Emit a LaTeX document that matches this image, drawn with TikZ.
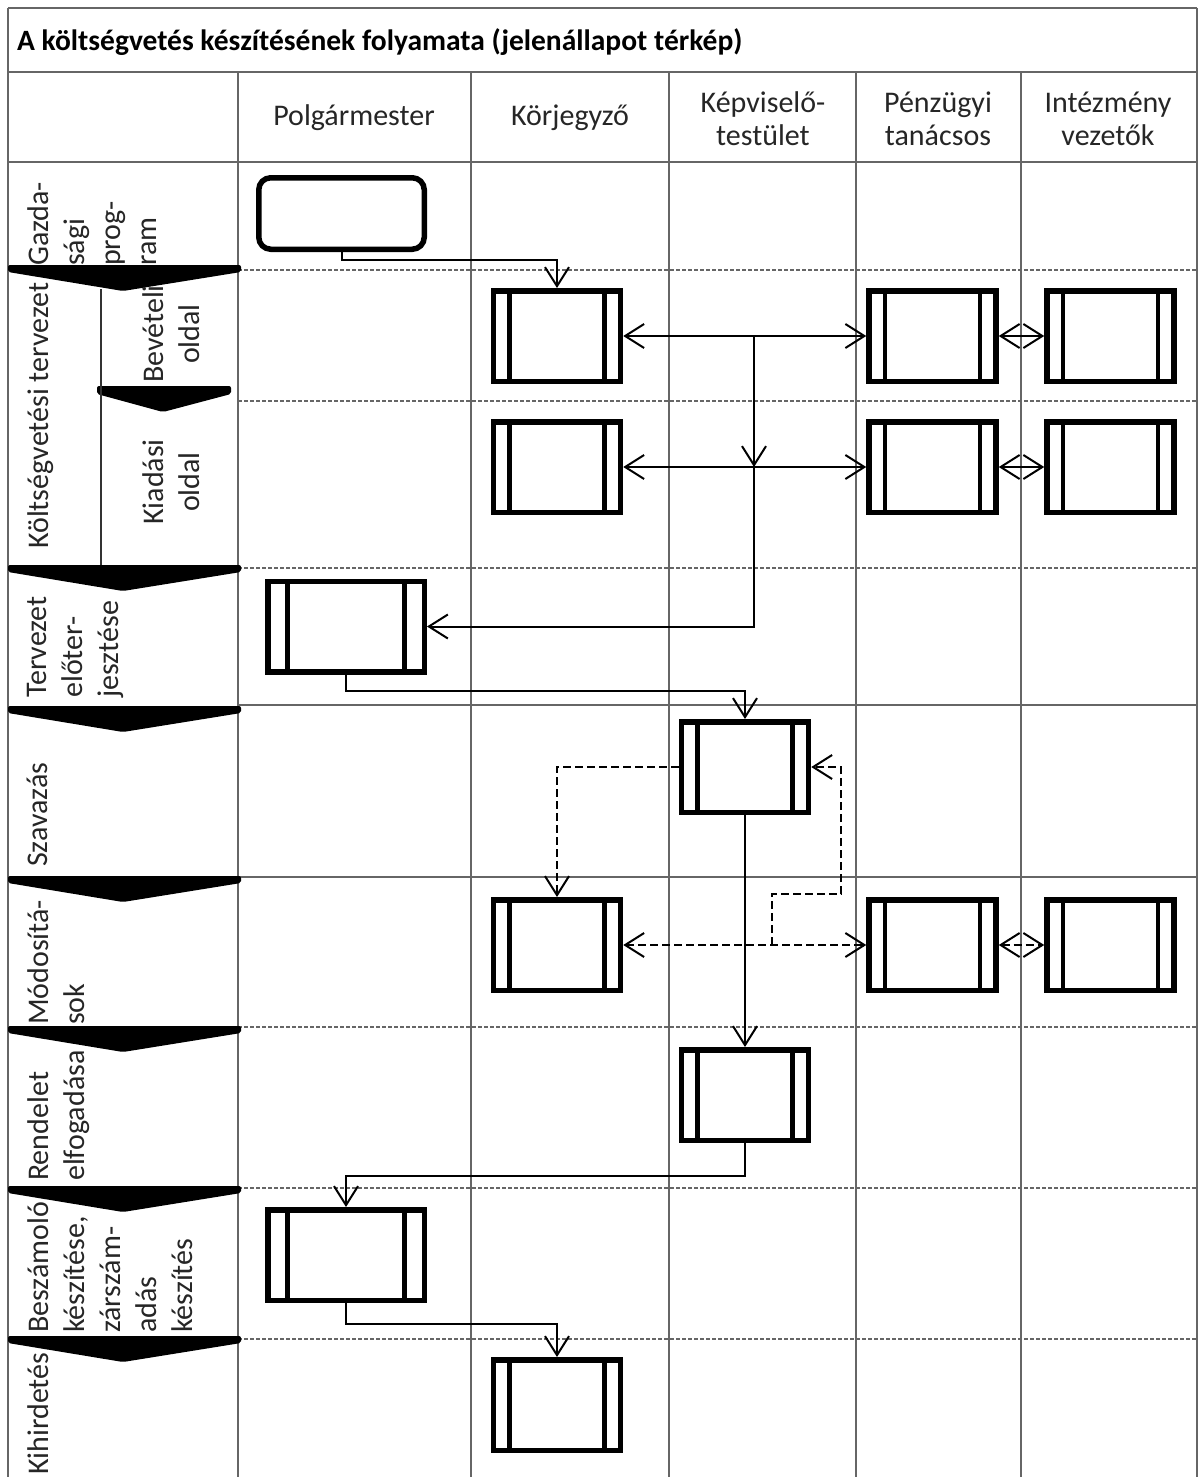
\documentclass[tikz,border=0pt]{standalone}
\usepackage{fontspec}
\setmainfont{Carlito}
\usetikzlibrary{positioning,calc,arrows.meta}

\begin{document}
\begin{tikzpicture}[x=1pt, y=-1pt,
  laneline/.style={draw=black!60, line width=1.6pt},
  rowsep/.style={draw=black!60, line width=1.4pt, dash pattern=on 4pt off 2pt},
  lbl/.style={font=\fontsize{30}{36}\selectfont, text=black!85, inner sep=0pt},
  phaselbl/.style={lbl, rotate=90, anchor=north west, align=left},
  sublbl/.style={lbl, rotate=90, align=center},
  headlbl/.style={lbl, align=center, font=\fontsize{30}{33}\selectfont},
  proc/.style={draw, line width=5.5pt, minimum width=#1, minimum height=90.5pt, inner sep=0pt,
    path picture={
      \draw[line width=4.5pt]
        ($(path picture bounding box.north west)!0.125!(path picture bounding box.north east)$) --
        ($(path picture bounding box.south west)!0.125!(path picture bounding box.south east)$)
        ($(path picture bounding box.north west)!0.875!(path picture bounding box.north east)$) --
        ($(path picture bounding box.south west)!0.875!(path picture bounding box.south east)$);
    }},
  proc/.default=127pt,
  startbox/.style={draw, line width=5.5pt, rounded corners=12pt, minimum width=165.5pt, minimum height=71.5pt},
  arr/.style={-{Straight Barb[length=19pt,width=24pt]}, line width=2pt},
  arrs/.style={{Straight Barb[length=19pt,width=24pt]}-{Straight Barb[length=19pt,width=24pt]}, line width=2pt},
  dashline/.style={dash pattern=on 8pt off 4pt}
]
  \useasboundingbox (0,0) rectangle (1198,1477);

  % keret, oszlopok, sorok
  \draw[laneline] (8,8) -- (1197,8);
  \draw[laneline] (8,72) -- (1197,72);
  \draw[laneline] (8,162) -- (1197,162);
  \draw[laneline] (8,8) -- (8,1477);
  \draw[laneline] (1197,8) -- (1197,1477);
  \foreach \x in {238,471,669,856,1021}
    \draw[laneline] (\x,72) -- (\x,1477);
  \foreach \y in {705,877}
    \draw[laneline] (238,\y) -- (1197,\y);
  \foreach \y in {270,401,568,1027,1188,1339}
    \draw[rowsep] (238,\y) -- (1197,\y);

  % fazis nyilak
  \foreach \y in {268,568,709,879,1029,1189,1339}
    \fill[rounded corners=2pt] (8,\y-3) -- (241,\y-3) -- (241,\y+4) -- (123,\y+23) -- (8,\y+4) -- cycle;
  \fill[rounded corners=2pt] (97,386) -- (231,386) -- (231,394) -- (163,412) -- (97,394) -- cycle;
  \draw[line width=1.6pt, black!80] (101,289) -- (101,565);

  \node[anchor=west, inner sep=0pt, font=\bfseries\fontsize{29.5}{32}\selectfont] (title) at (17,42)
    {A költségvetés készítésének folyamata (jelenállapot térkép)};

  \node[headlbl] (polg) at (354,118) {Polgármester};
  \node[headlbl] (korj) at (570,118) {Körjegyző};
  \node[headlbl] (kepv) at (763,119) {Képviselő-\\testület};
  \node[headlbl] (penz) at (938,119) {Pénzügyi\\tanácsos};
  \node[headlbl] (intv) at (1108,119) {Intézmény\\vezetők};

  \node[phaselbl] (gazdlbl) at (27,266) {Gazda-\\sági\\prog-\\ram};
  \node[phaselbl] (koltlbl) at (27,549) {Költségvetési tervezet};
  \node[sublbl] (bevlbl) at (171,334) {Bevételi\\oldal};
  \node[sublbl] (kiadlbl) at (171,482) {Kiadási\\oldal};
  \node[phaselbl] (tervlbl) at (27,698) {Tervezet\\előter-\\jesztése};
  \node[phaselbl] (szavlbl) at (27,867) {Szavazás};
  \node[phaselbl] (modlbl) at (27,1025) {Módosítá-\\sok};
  \node[phaselbl] (rendlbl) at (27,1181) {Rendelet\\elfogadása};
  \node[phaselbl] (beszlbl) at (27,1333) {Beszámoló\\készítése,\\zárszám-\\adás\\készítés};
  \node[phaselbl] (kihlbl) at (27,1475) {Kihirdetés};

  % folyamat lepesek
  \node[startbox] (gazd) at (341.5,213.5) {};
  \node[proc] (kbev) at (557,336) {};
  \node[proc] (kkiad) at (557,467) {};
  \node[proc] (pbev) at (932.5,336) {};
  \node[proc] (pkiad) at (932.5,467) {};
  \node[proc] (ibev) at (1110.5,336) {};
  \node[proc] (ikiad) at (1110.5,467) {};
  \node[proc=156.5pt] (terv) at (346,626.5) {};
  \node[proc] (szav) at (745,767) {};
  \node[proc] (mkor) at (557,945) {};
  \node[proc] (mpen) at (932.5,945) {};
  \node[proc] (mint) at (1110.5,945) {};
  \node[proc] (rend) at (745,1095) {};
  \node[proc=156.5pt] (besz) at (346,1255) {};
  \node[proc] (kihird) at (557,1405) {};

  \coordinate (split) at (754,336);
  \coordinate (vissza) at (772,945);

  \draw[arr] (gazd.south) -- ++(0,8) -| (kbev.north);
  \draw[arrs] (kbev) -- (pbev);
  \draw[arrs] (pbev) -- (ibev);
  \draw[arrs] (kkiad) -- (pkiad);
  \draw[arrs] (pkiad) -- (ikiad);
  \draw[arr] (split) -- (split |- kkiad);
  \draw[arr] (split |- kkiad) |- (terv.east);
  \draw[arr] (terv.south) -- ++(0,16) -| (szav.north);
  \draw[arr, dashline] (szav.west) -| (mkor.north);
  \draw[arrs, dashline] (mkor) -- (mpen);
  \draw[arrs, dashline] (mpen) -- (mint);
  \draw[arr, dashline] (vissza) -- ++(0,-51) -- ++(69,0) |- (szav.east);
  \draw[arr] (szav.south) -- (rend.north);
  \draw[arr] (rend.south) -- ++(0,33) -| (besz.north);
  \draw[arr] (besz.south) -- ++(0,21) -| (kihird.north);
\end{tikzpicture}
\end{document}
